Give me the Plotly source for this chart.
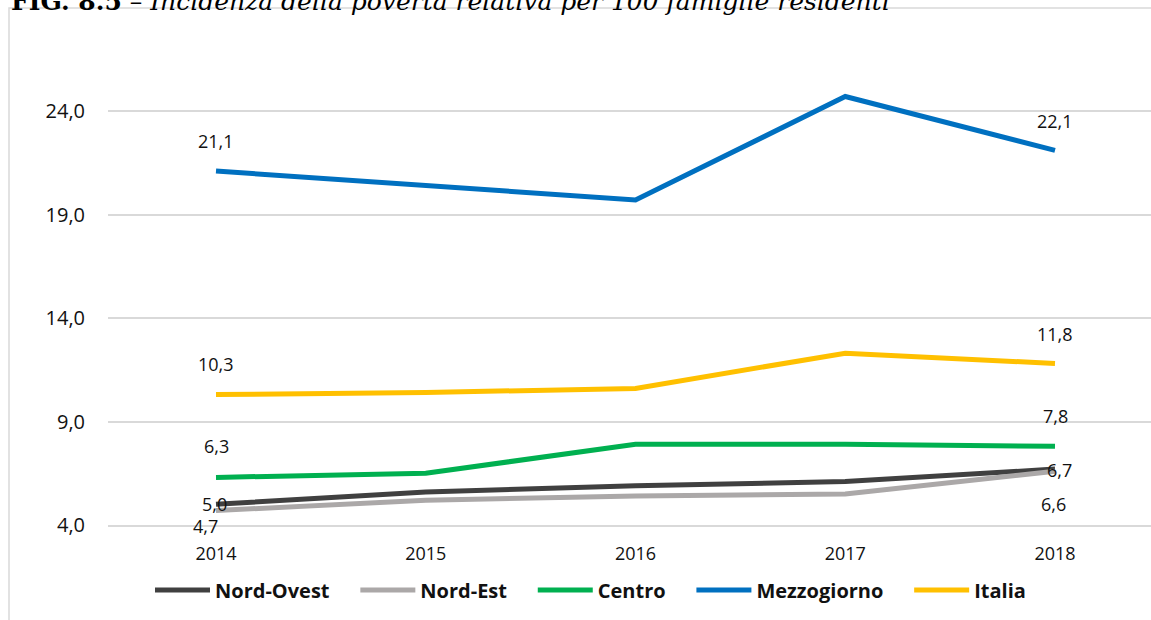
import plotly.graph_objects as go

years = ["2014", "2015", "2016", "2017", "2018"]
series_names = ["Nord-Ovest", "Nord-Est", "Centro", "Mezzogiorno", "Italia"]
nord_ovest = [5.0, 5.6, 5.9, 6.1, 6.7]
nord_est = [4.7, 5.2, 5.4, 5.5, 6.6]
centro = [6.3, 6.5, 7.9, 7.9, 7.8]
mezzogiorno = [21.1, 20.4, 19.7, 24.7, 22.1]
italia = [10.3, 10.4, 10.6, 12.3, 11.8]
y_tickvals = [4.0, 9.0, 14.0, 19.0, 24.0]
title_bold = "FIG. 8.5"
title_text = "Incidenza della povertà relativa per 100 famiglie residenti"

values = [nord_ovest, nord_est, centro, mezzogiorno, italia]
colors = ["#404040", "#ABA8A8", "#00B050", "#0070C0", "#FFC000"]
# label offsets (px) for first / last point of each series
label_shift = [
    [(-2, 0), (4, -1)],
    [(-11, -15), (-2, -33)],
    [(0, 31), (0, 30)],
    [(0, 30), (0, 29)],
    [(0, 31), (0, 30)],
]

W, H = 1151, 620
ml, mr, mt, mb = 108, 0, 39, 95
pw, ph = W - ml - mr, H - mt - mb

def px_x(p):
    return (p - ml) / pw

def px_y(p):
    return (H - mb - p) / ph

font_main = "'Open Sans', Carlito, Lato, sans-serif"
legend_pad = "\u00a0" * 4

fig = go.Figure()
xs = list(range(len(years)))
for name, vals, col in zip(series_names, values, colors):
    fig.add_trace(go.Scatter(
        x=xs, y=vals, mode="lines", name=name + legend_pad,
        line=dict(color=col, width=5, shape="linear"),
        hoverinfo="skip",
    ))

annotations = []
for vals, shifts in zip(values, label_shift):
    for idx, (dx, dy) in zip([0, len(vals) - 1], shifts):
        annotations.append(dict(
            x=xs[idx], y=vals[idx], xref="x", yref="y",
            text=f"{vals[idx]:.1f}".replace(".", ","),
            showarrow=False, xshift=dx, yshift=dy,
            font=dict(family=font_main, size=18, color="#111111"),
        ))

annotations.append(dict(
    x=px_x(9), y=px_y(18), xref="paper", yref="paper",
    xanchor="left", yanchor="bottom", showarrow=False,
    text=f"<b>{title_bold}</b> – <i>{title_text}</i>",
    font=dict(family="'DejaVu Serif', 'Liberation Serif', serif", size=25, color="#000000"),
))

fig.update_layout(
    width=W, height=H,
    margin=dict(l=ml, r=mr, t=mt, b=mb),
    paper_bgcolor="white", plot_bgcolor="white",
    showlegend=True,
    legend=dict(
        orientation="h", x=px_x(601), xanchor="center",
        y=px_y(590), yanchor="middle",
        font=dict(family=font_main, size=20, color="#111111", weight="bold"),
        itemwidth=55,
    ),
    annotations=annotations,
    shapes=[dict(
        type="rect", xref="paper", yref="paper",
        x0=px_x(9), x1=px_x(1200), y0=px_y(8), y1=px_y(700),
        line=dict(color="#d9d9d9", width=1.5), fillcolor="rgba(0,0,0,0)",
        layer="below",
    )],
)

fig.update_xaxes(
    range=[(108 - 216) / 209.75, (1151 - 216) / 209.75],
    tickvals=xs, ticktext=years,
    showgrid=False, zeroline=False,
    showline=True, linecolor="#d9d9d9", linewidth=1.5,
    ticks="", ticklabelstandoff=12,
    tickfont=dict(family=font_main, size=18, color="#111111"),
)
fig.update_yaxes(
    range=[4.0, 4.0 + (525 - 39) / 20.7],
    tickvals=y_tickvals,
    ticktext=[f"{v:.1f}".replace(".", ",") for v in y_tickvals],
    showgrid=True, gridcolor="#d9d9d9", gridwidth=1.5,
    zeroline=False, showline=False, ticks="",
    ticklabelstandoff=22,
    tickfont=dict(family=font_main, size=20, color="#111111"),
)

fig.write_html(
    "out.html",
    config={"displayModeBar": False},
    post_script="document.body.style.margin='0px'; document.body.style.overflow='hidden';",
)
